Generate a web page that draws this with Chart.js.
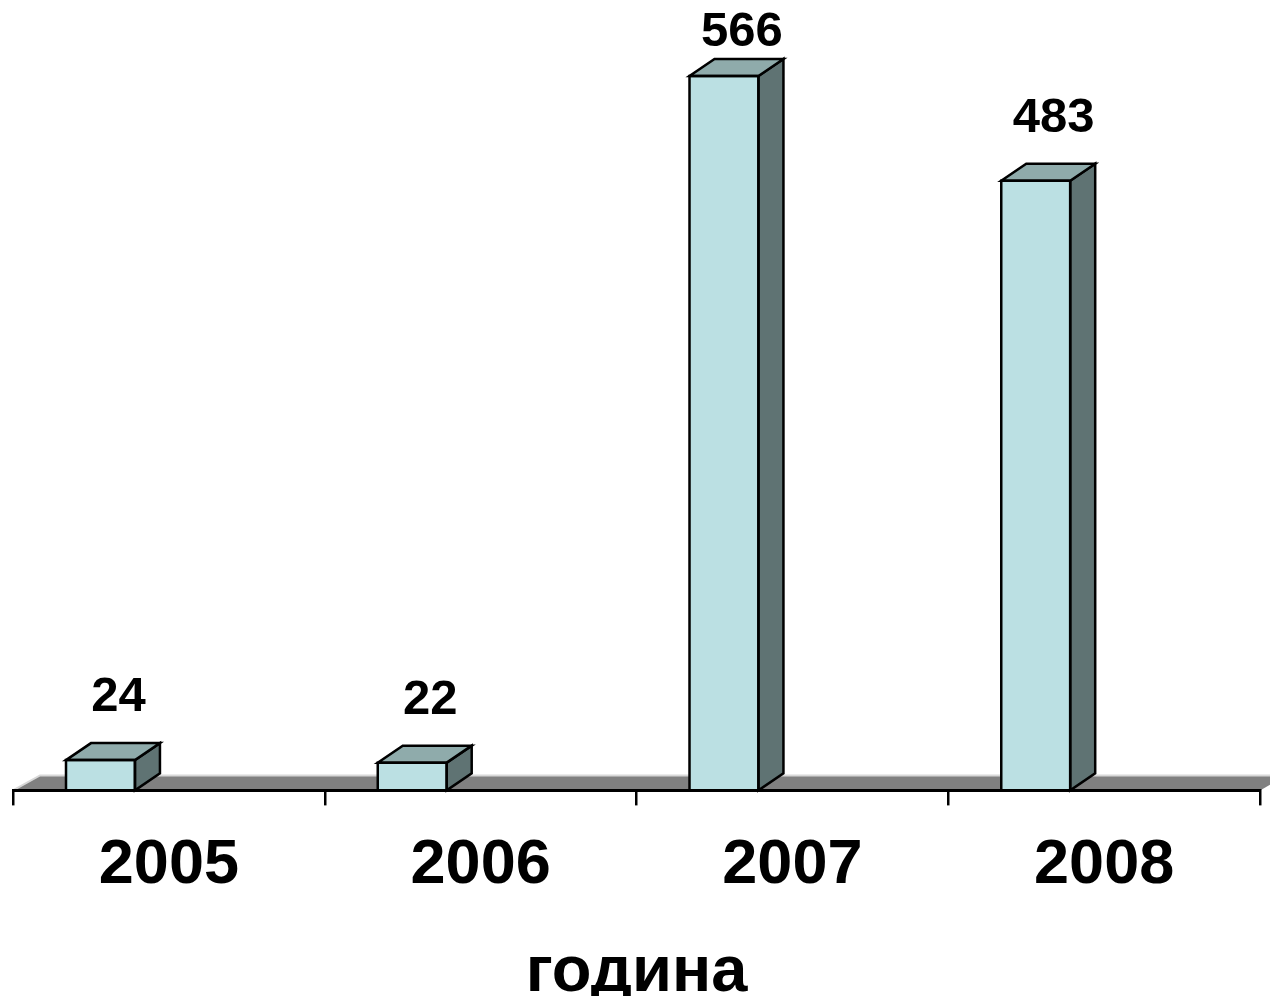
<!DOCTYPE html>
<html>
<head>
<meta charset="utf-8">
<script src="https://cdn.jsdelivr.net/npm/chart.js@4/dist/chart.umd.min.js"></script>
<style>
   html, body { margin: 0; padding: 0; background: #fff; }
   .wrap { width: 1270px; height: 996px; }
</style>
</head>
<body>
<div class="wrap"><canvas id="myChart"></canvas></div>
<script>
// data
const years = ['2005', '2006', '2007', '2008'];
const counts = [24, 22, 566, 483];
const emptySlot = [null, null, null, null];
const axisTitle = 'година';

const FONT = '"Liberation Sans", Arial, sans-serif';
const DX = 25, DY = 17;

// grey floor under the columns
const floor = {
   id: 'floor',
   beforeDraw(chart) {
      let a = chart.chartArea;
      let ctx = chart.ctx;
      ctx.save();
      ctx.beginPath();
      ctx.moveTo(a.left, a.bottom);
      ctx.lineTo(a.right, a.bottom);
      ctx.lineTo(a.right + 27, a.bottom - 15);
      ctx.lineTo(a.left + 27, a.bottom - 15);
      ctx.closePath();
      ctx.fillStyle = '#808080';
      ctx.fill();
      ctx.strokeStyle = '#d8d8d8';
      ctx.lineWidth = 2;
      ctx.beginPath();
      ctx.moveTo(a.left, a.bottom);
      ctx.lineTo(a.left + 27, a.bottom - 15);
      ctx.lineTo(a.right + 30, a.bottom - 15);
      ctx.stroke();
      ctx.restore();
   }
};

// top and side faces + value labels
const columns3d = {
   id: 'columns3d',
   afterDatasetsDraw(chart) {
      let ctx = chart.ctx;
      let meta = chart.getDatasetMeta(0);
      ctx.save();
      ctx.lineWidth = 2.5;
      ctx.strokeStyle = '#000';
      ctx.lineJoin = 'miter';
      meta.data.forEach((bar, i) => {
         let p = bar.getProps(['x', 'y', 'base', 'width'], true);
         let L = p.x - p.width / 2, R = p.x + p.width / 2, T = p.y, B = p.base;

         ctx.beginPath();
         ctx.moveTo(R, T);
         ctx.lineTo(R + DX, T - DY);
         ctx.lineTo(R + DX, B - DY);
         ctx.lineTo(R, B);
         ctx.closePath();
         ctx.fillStyle = '#5f7373';
         ctx.fill();
         ctx.stroke();

         ctx.beginPath();
         ctx.moveTo(L, T);
         ctx.lineTo(R, T);
         ctx.lineTo(R + DX, T - DY);
         ctx.lineTo(L + DX, T - DY);
         ctx.closePath();
         ctx.fillStyle = '#8fabab';
         ctx.fill();
         ctx.stroke();

         ctx.beginPath();
         ctx.rect(L, T, R - L, B - T);
         ctx.stroke();

         ctx.fillStyle = '#000';
         ctx.font = 'bold 49px ' + FONT;
         ctx.textAlign = 'center';
         ctx.textBaseline = 'alphabetic';
         let yy = Math.max(T - DY - 32, 46);
         ctx.fillText(String(counts[i]), p.x + 18, yy);
      });
      ctx.restore();
   }
};

new Chart(document.getElementById('myChart'), {
   type: 'bar',
   data: {
      labels: years,
      datasets: [{
         data: counts,
         backgroundColor: '#bbe0e3',
         borderWidth: 0,
         categoryPercentage: 0.8776,
         barPercentage: 0.504
      }, {
         data: emptySlot,
         categoryPercentage: 0.8776,
         barPercentage: 0.504
      }]
   },
   options: {
      responsive: true,
      maintainAspectRatio: false,
      animation: false,
      layout: { padding: { top: 33, left: 13, right: 10, bottom: -16 } },
      plugins: { legend: { display: false }, tooltip: { enabled: false } },
      scales: {
         y: { display: false, min: 0, max: 600 },
         x: {
            grid: { drawOnChartArea: false, tickLength: 15, color: '#000', lineWidth: 2.5 },
            border: { display: true, color: '#000', width: 3, z: 1 },
            ticks: { color: '#000', padding: 22, font: { family: FONT, size: 63, weight: 'bold' } },
            title: {
               display: true,
               text: axisTitle,
               color: '#000',
               padding: { top: 9, bottom: 0 },
               font: { family: FONT, size: 65, weight: 'bold' }
            }
         }
      }
   },
   plugins: [floor, columns3d]
});
</script>
</body>
</html>
